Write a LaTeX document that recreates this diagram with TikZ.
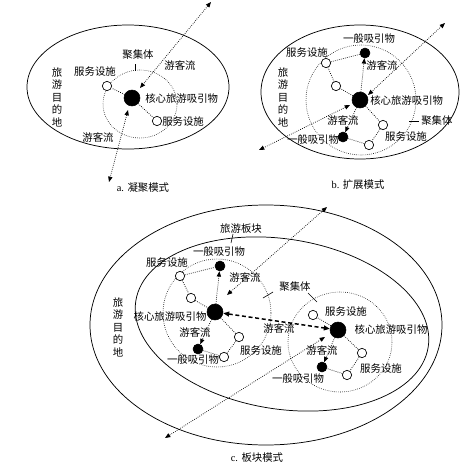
\documentclass[tikz,border=0pt]{standalone}
\usepackage{fontspec}
\setmainfont{Liberation Serif}
\newfontfamily\cjk{Noto Sans CJK SC}
\usetikzlibrary{arrows.meta}
\begin{document}
\begin{tikzpicture}[x=0.75pt,y=-0.75pt,
  every node/.style={font=\cjk\fontsize{7.8}{9}\selectfont, inner sep=0pt},
  vert/.style={align=center, font=\cjk\fontsize{7.8}{9.4}\selectfont},
  corenode/.style={circle, fill=black, draw=black, minimum size=12pt},
  attrnode/.style={circle, fill=black, draw=black, minimum size=7.5pt},
  svcnode/.style={circle, fill=white, draw=black, line width=0.5pt, minimum size=7pt},
  ring/.style={draw, line width=0.55pt},
  dring/.style={draw, densely dotted, line width=0.45pt},
  linkline/.style={densely dotted, line width=0.55pt},
  flowline/.style={densely dotted, line width=0.55pt, -{Triangle[length=4pt,width=3.2pt]}},
  dflowline/.style={densely dotted, line width=0.55pt, {Triangle[length=4pt,width=3.2pt]}-{Triangle[length=4pt,width=3.2pt]}},
  boldflow/.style={densely dashed, line width=1.1pt, {Triangle[length=4.5pt,width=3.6pt]}-{Triangle[length=4.5pt,width=3.6pt]}},
  leader/.style={line width=0.45pt},
  captext/.style={font=\fontsize{7.8}{9}\selectfont}
]
\useasboundingbox (0,0) rectangle (460,468);

% ================= Panel a =================
\draw[ring] (128,87) ellipse [x radius=101, y radius=62];
\draw[dring] (140,104) ellipse [x radius=37, y radius=34];
\node[corenode] (a0) at (132,98) {};
\node[svcnode] (a1) at (107,86) {};
\node[svcnode] (a2) at (157,121) {};
\draw[linkline] (a0) -- (a1);
\draw[linkline] (a0) -- (a2);
\coordinate (aT) at (211,2);
\coordinate (aC1) at (140,88);
\coordinate (aC2) at (128,110);
\coordinate (aB) at (109,182);
\draw[dflowline] (aT) -- (aC1);
\draw[dflowline] (aC2) -- (aB);
\node (ta1) at (138,55) {聚集体};
\coordinate (ta1a) at (135,64);
\coordinate (ta1b) at (135,71);
\draw[leader] (ta1a) -- (ta1b);
\node (ta2) at (95,72) {服务设施};
\node (ta3) at (180,65) {游客流};
\node[anchor=west] (ta4) at (145,99) {核心旅游吸引物};
\node[anchor=west] (ta5) at (162,122) {服务设施};
\node (ta6) at (98,137) {游客流};
\node[vert] (ta7) at (57,97) {旅\\游\\目\\的\\地};
\node[captext] (capa) at (143,188) {a. {\cjk 凝聚模式}};

% ================= Panel b =================
\draw[ring] (360,92) ellipse [x radius=99, y radius=67];
\draw[dring] (361,100) circle [radius=55];
\node[corenode] (b0) at (360,100) {};
\node[attrnode] (b1) at (365,53) {};
\node[svcnode] (b2) at (326,63) {};
\node[svcnode] (b3) at (336,86) {};
\node[svcnode] (b4) at (383,125) {};
\node[svcnode] (b5) at (369,145) {};
\node[attrnode] (b6) at (343,137) {};
\draw[linkline] (b2) -- (b1);
\draw[linkline] (b3) -- (b2);
\draw[linkline] (b0) -- (b3);
\draw[linkline] (b0) -- (b4);
\draw[linkline] (b4) -- (b5);
\draw[linkline] (b5) -- (b6);
\draw[flowline] (b0) -- (b1);
\draw[flowline] (b0) -- (b6);
\coordinate (bT) at (445,23);
\coordinate (bC1) at (368,95);
\coordinate (bC2) at (350,105);
\coordinate (bB) at (259,150);
\draw[dflowline] (bT) -- (bC1);
\draw[dflowline] (bC2) -- (bB);
\node (tb1) at (369,39) {一般吸引物};
\node (tb2) at (307,53) {服务设施};
\node (tb3) at (382,65) {游客流};
\node[vert] (tb4) at (283,97) {旅\\游\\目\\的\\地};
\node[anchor=west] (tb5) at (370,101) {核心旅游吸引物};
\node (tb6) at (343,120) {游客流};
\coordinate (tb7a) at (409,121);
\coordinate (tb7b) at (419,121);
\draw[leader] (tb7a) -- (tb7b);
\node[anchor=west] (tb7) at (421,121) {聚集体};
\node (tb8) at (313,140) {一般吸引物};
\node (tb9) at (406,137) {服务设施};
\node[captext] (capb) at (358,185) {b. {\cjk 扩展模式}};

% ================= Panel c =================
\draw[ring] (266,325) ellipse [x radius=176, y radius=120];
\draw[ring, rotate around={-9:(282,324)}] (282,324) ellipse [x radius=148, y radius=85];
\draw[dring] (217,313) circle [radius=54];
\draw[dring] (340,342) ellipse [x radius=52, y radius=50];
% left cluster
\node[corenode] (c0) at (215,312) {};
\node[attrnode] (c1) at (220,266) {};
\node[svcnode] (c2) at (180,276) {};
\node[svcnode] (c3) at (191,298) {};
\node[svcnode] (c4) at (239,337) {};
\node[svcnode] (c5) at (224,357) {};
\node[attrnode] (c6) at (198,349) {};
\draw[linkline] (c2) -- (c1);
\draw[linkline] (c2) -- (c3);
\draw[linkline] (c3) -- (c0);
\draw[linkline] (c0) -- (c4);
\draw[linkline] (c4) -- (c5);
\draw[linkline] (c5) -- (c6);
\draw[flowline] (c0) -- (c1);
\draw[flowline] (c0) -- (c6);
% right cluster
\node[corenode] (d0) at (338,330) {};
\node[svcnode] (d1) at (313,315) {};
\node[svcnode] (d2) at (362,353) {};
\node[svcnode] (d3) at (347,375) {};
\node[attrnode] (d4) at (322,367) {};
\draw[linkline] (d0) -- (d1);
\draw[linkline] (d0) -- (d2);
\draw[linkline] (d2) -- (d3);
\draw[linkline] (d3) -- (d4);
\draw[flowline] (d0) -- (d4);
\draw[boldflow] (c0) -- (d0);
\coordinate (cT) at (327,207);
\coordinate (cC1) at (227,295);
\coordinate (cC2) at (325,337);
\coordinate (cB) at (165,438);
\draw[dflowline] (cT) -- (cC1);
\draw[dflowline] (cC2) -- (cB);
% labels
\node (tc1) at (241,229) {旅游板块};
\coordinate (tc1a) at (233,234);
\coordinate (tc1b) at (231,243);
\draw[leader] (tc1a) -- (tc1b);
\node (tc2) at (219,252) {一般吸引物};
\node (tc3) at (167,263) {服务设施};
\node (tc4) at (245,277) {游客流};
\node (tc5) at (295,287) {聚集体};
\coordinate (tc5a) at (273,292);
\coordinate (tc5b) at (263,298);
\coordinate (tc5c) at (308,293);
\coordinate (tc5d) at (317,302);
\draw[leader] (tc5a) -- (tc5b);
\draw[leader] (tc5c) -- (tc5d);
\node (tc6) at (170,317) {核心旅游吸引物};
\node[vert] (tc7) at (118,327) {旅\\游\\目\\的\\地};
\node (tc8) at (195,332) {游客流};
\node (tc9) at (261,351) {服务设施};
\node (tc10) at (193,360) {一般吸引物};
\node (tc11) at (279,328) {游客流};
\node (tc12) at (346,312) {服务设施};
\node (tc13) at (391,330) {核心旅游吸引物};
\node (tc14) at (322,350) {游客流};
\node (tc15) at (381,369) {服务设施};
\node (tc16) at (298,379) {一般吸引物};
\node[captext] (capc) at (257,458) {c. {\cjk 板块模式}};
\end{tikzpicture}
\end{document}
